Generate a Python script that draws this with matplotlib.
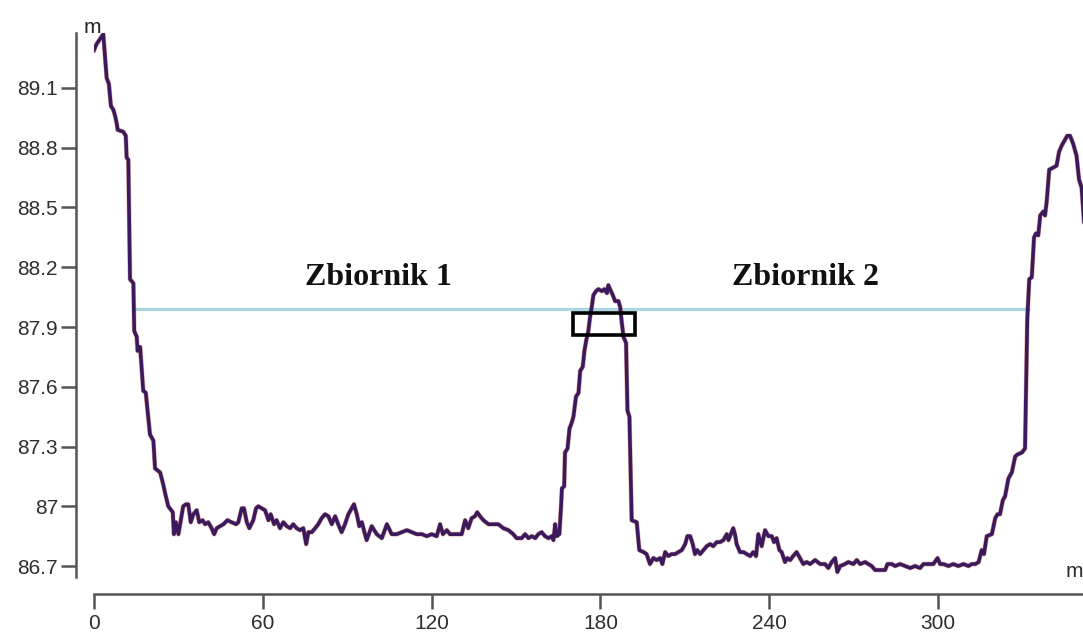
import matplotlib
matplotlib.use("Agg")
import matplotlib.pyplot as plt
from matplotlib.patches import Rectangle

# Terrain profile: distance along the section [m] and ground elevation [m]
distance = [
    0.0, 0.9, 3.3, 4.5, 5.3, 6.0, 6.9, 7.5, 8.1, 8.4, 10.4, 11.3, 11.6, 12.2,
    12.8, 14.0, 14.3, 15.2, 15.5, 16.4, 17.5, 18.4, 19.9, 21.1, 21.7, 23.5,
    24.6, 25.2, 26.4, 28.0, 28.4, 29.1, 30.0, 30.6, 31.2, 31.7, 32.7, 33.5,
    34.4, 35.3, 36.5, 37.4, 38.6, 39.5, 40.6, 41.8, 42.7, 43.6, 44.8, 46.0,
    47.4, 48.9, 50.5, 51.3, 52.5, 53.3, 54.3, 55.2, 56.6, 57.6, 58.4, 59.6,
    60.8, 62.0, 62.8, 64.0, 64.9, 66.1, 67.3, 68.5, 69.7, 70.8, 72.0, 73.2,
    74.4, 75.4, 76.2, 77.4, 78.6, 79.7, 80.9, 82.1, 83.3, 84.5, 85.7, 86.8,
    88.0, 89.2, 90.4, 91.6, 92.4, 93.4, 94.3, 95.2, 96.3, 96.9, 98.7, 100.5,
    102.3, 104.1, 105.8, 107.6, 109.4, 111.2, 113.0, 114.7, 116.5, 118.3,
    120.0, 121.8, 123.0, 124.0, 125.4, 126.5, 127.7, 129.5, 130.7, 131.9,
    133.0, 134.2, 135.4, 136.2, 137.2, 138.4, 140.2, 141.9, 143.7, 145.5,
    147.3, 149.0, 150.2, 152.0, 153.2, 154.4, 155.6, 156.8, 157.9, 159.1,
    160.3, 161.5, 162.7, 163.3, 163.9, 164.5, 165.4, 166.0, 166.3, 167.1,
    167.4, 168.3, 169.0, 169.8, 170.4, 171.3, 172.2, 172.8, 173.7, 174.3,
    174.9, 175.7, 176.3, 176.9, 177.5, 178.4, 179.3, 180.5, 181.4, 182.3,
    182.8, 183.4, 184.4, 185.2, 186.4, 187.0, 187.6, 188.2, 189.1, 189.6,
    190.3, 191.1, 192.9, 193.8, 195.3, 196.4, 197.6, 198.8, 200.0, 201.2,
    202.0, 203.0, 204.1, 205.3, 206.5, 207.7, 208.9, 210.1, 210.9, 211.9,
    212.8, 213.6, 214.4, 215.4, 216.6, 217.8, 219.0, 220.1, 221.3, 222.5,
    223.7, 224.9, 225.5, 226.6, 227.2, 227.8, 228.4, 229.6, 230.8, 232.0,
    233.2, 234.3, 235.3, 236.1, 237.3, 238.5, 239.7, 240.9, 241.7, 242.6,
    243.6, 244.4, 245.6, 246.4, 247.4, 248.5, 249.7, 250.9, 252.1, 253.3,
    254.5, 256.3, 258.1, 259.8, 261.0, 262.2, 263.4, 264.2, 265.2, 266.9,
    268.1, 269.9, 271.1, 272.3, 274.1, 275.2, 276.4, 277.6, 279.4, 281.2,
    282.0, 283.6, 284.7, 286.5, 288.3, 290.1, 291.8, 293.6, 294.8, 296.5,
    298.3, 299.8, 300.7, 301.9, 303.7, 305.4, 307.2, 309.0, 310.8, 312.0,
    313.2, 314.4, 315.5, 316.3, 317.3, 319.1, 320.3, 321.1, 322.0, 323.0,
    323.8, 325.0, 326.2, 327.4, 328.2, 329.8, 330.9, 331.7, 332.4, 333.3,
    334.1, 334.8, 335.6, 336.3, 337.4, 338.0, 338.6, 339.5, 340.9, 342.1,
    343.0, 343.9, 345.1, 345.9, 346.9, 348.0, 349.2, 350.1, 351.0, 353.0,
]
elevation = [
    89.29, 89.32, 89.37, 89.15, 89.12, 89.01, 88.99, 88.96, 88.92, 88.89,
    88.88, 88.86, 88.75, 88.74, 88.14, 88.12, 87.88, 87.85, 87.78, 87.80,
    87.58, 87.57, 87.36, 87.33, 87.19, 87.17, 87.11, 87.07, 87.00, 86.97,
    86.86, 86.92, 86.86, 86.91, 86.96, 87.00, 87.01, 87.01, 86.92, 86.96,
    86.98, 86.92, 86.93, 86.91, 86.92, 86.89, 86.86, 86.89, 86.90, 86.91,
    86.93, 86.92, 86.91, 86.92, 86.99, 86.99, 86.92, 86.89, 86.93, 86.99,
    87.00, 86.99, 86.98, 86.93, 86.96, 86.91, 86.93, 86.89, 86.92, 86.90,
    86.89, 86.91, 86.89, 86.88, 86.89, 86.81, 86.87, 86.87, 86.89, 86.91,
    86.94, 86.96, 86.95, 86.91, 86.95, 86.91, 86.87, 86.91, 86.96, 86.99,
    87.01, 86.96, 86.90, 86.92, 86.86, 86.83, 86.90, 86.86, 86.84, 86.91,
    86.86, 86.86, 86.87, 86.88, 86.87, 86.86, 86.86, 86.85, 86.86, 86.85,
    86.91, 86.86, 86.88, 86.86, 86.86, 86.86, 86.86, 86.93, 86.89, 86.94,
    86.95, 86.97, 86.95, 86.93, 86.91, 86.91, 86.91, 86.89, 86.88, 86.86,
    86.84, 86.84, 86.86, 86.84, 86.85, 86.84, 86.86, 86.87, 86.85, 86.84,
    86.85, 86.83, 86.91, 86.85, 86.86, 87.00, 87.09, 87.10, 87.27, 87.29,
    87.39, 87.42, 87.45, 87.55, 87.57, 87.68, 87.70, 87.78, 87.83, 87.88,
    87.95, 88.00, 88.06, 88.08, 88.09, 88.08, 88.09, 88.07, 88.11, 88.09,
    88.06, 88.03, 88.03, 88.00, 87.92, 87.85, 87.82, 87.48, 87.45, 86.93,
    86.92, 86.78, 86.77, 86.76, 86.71, 86.74, 86.73, 86.74, 86.71, 86.77,
    86.75, 86.76, 86.76, 86.77, 86.78, 86.81, 86.85, 86.85, 86.81, 86.76,
    86.78, 86.76, 86.78, 86.80, 86.81, 86.80, 86.82, 86.82, 86.83, 86.86,
    86.83, 86.87, 86.89, 86.86, 86.81, 86.77, 86.77, 86.76, 86.75, 86.77,
    86.75, 86.86, 86.80, 86.88, 86.85, 86.85, 86.82, 86.84, 86.78, 86.77,
    86.72, 86.74, 86.73, 86.75, 86.77, 86.74, 86.71, 86.72, 86.71, 86.73,
    86.71, 86.71, 86.69, 86.72, 86.74, 86.67, 86.70, 86.71, 86.72, 86.71,
    86.73, 86.71, 86.72, 86.71, 86.70, 86.68, 86.68, 86.68, 86.71, 86.71,
    86.70, 86.71, 86.70, 86.69, 86.70, 86.69, 86.71, 86.71, 86.71, 86.74,
    86.71, 86.71, 86.70, 86.71, 86.70, 86.71, 86.70, 86.71, 86.71, 86.72,
    86.78, 86.76, 86.85, 86.86, 86.94, 86.96, 86.96, 87.03, 87.05, 87.14,
    87.17, 87.25, 87.26, 87.27, 87.29, 87.94, 88.14, 88.15, 88.35, 88.37,
    88.36, 88.46, 88.48, 88.46, 88.53, 88.69, 88.70, 88.71, 88.78, 88.81,
    88.84, 88.86, 88.86, 88.82, 88.76, 88.64, 88.60, 88.20,
]

# Water level shared by both reservoirs
water_level = 87.99
water_start, water_end = 13.9, 332.6

# Overflow (spillway) frame
weir_x = (170.3, 192.3)
weir_y = (87.86, 87.97)

reservoir_labels = ["Zbiornik 1", "Zbiornik 2"]
label_pos = [(101.0, 88.15), (253.0, 88.15)]

y_ticks = [86.7, 87.0, 87.3, 87.6, 87.9, 88.2, 88.5, 88.8, 89.1]
y_tick_labels = ["86.7", "87", "87.3", "87.6", "87.9", "88.2", "88.5", "88.8", "89.1"]
x_ticks = [0, 60, 120, 180, 240, 300]
x_tick_labels = ["0", "60", "120", "180", "240", "300"]

W, H, DPI = 1083, 633, 100
fig = plt.figure(figsize=(W / DPI, H / DPI), dpi=DPI)
ax = fig.add_axes([94 / W, (H - 577) / H, (W - 94) / W, (577 - 33) / H])
ax.set_xlim(0, 351.5)
ax.set_ylim(86.645, 89.376)

# water surface
ax.plot([water_start, water_end], [water_level, water_level],
        color="#a9d6e2", lw=2.3, solid_capstyle="butt", zorder=2)

# terrain profile: thin reddish rim under a dark purple stroke
ax.plot(distance, elevation, color="#c8604f", lw=3.4, alpha=0.5, zorder=3,
        solid_joinstyle="round")
ax.plot(distance, elevation, color="#3a1a5c", lw=2.6, zorder=4,
        solid_joinstyle="round")

ax.add_patch(Rectangle((weir_x[0], weir_y[0]), weir_x[1] - weir_x[0],
                       weir_y[1] - weir_y[0], fill=False, edgecolor="black",
                       lw=2.6, zorder=5))

for txt, (tx, ty) in zip(reservoir_labels, label_pos):
    ax.text(tx, ty, txt, ha="center", va="center", fontsize=23,
            family="Liberation Serif", fontweight="bold", color="#111111")

# axes styling: detached left and bottom axis lines
for s in ("top", "right"):
    ax.spines[s].set_visible(False)
ax.spines["left"].set_position(("outward", 13))
ax.spines["bottom"].set_position(("outward", 12.2))
for s in ("left", "bottom"):
    ax.spines[s].set_color("#555555")
    ax.spines[s].set_linewidth(1.8)

ax.set_yticks(y_ticks)
ax.set_yticklabels(y_tick_labels)
ax.set_xticks(x_ticks)
ax.set_xticklabels(x_tick_labels)
ax.tick_params(axis="y", length=10.5, width=1.8, color="#555555", pad=2.5,
               labelsize=15, labelcolor="#2e2e2e")
ax.tick_params(axis="x", length=11, width=1.8, color="#555555", pad=3.5,
               labelsize=15, labelcolor="#2e2e2e")
for lab in ax.get_xticklabels() + ax.get_yticklabels():
    lab.set_family("Liberation Sans")

# unit labels
fig.text(92 / W, (H - 33) / H, "m", ha="center", va="baseline", fontsize=15,
         family="Liberation Sans", color="#222222")
fig.text(1066 / W, (H - 577) / H, "m", ha="left", va="baseline", fontsize=15,
         family="Liberation Sans", color="#2e2e2e")

fig.savefig("out.png", dpi=DPI)
